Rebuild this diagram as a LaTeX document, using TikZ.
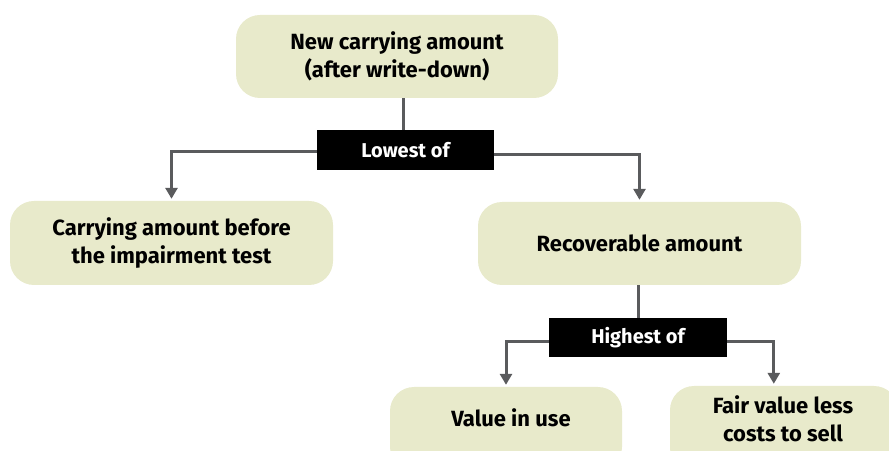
\documentclass[tikz,border=0pt]{standalone}
\usepackage{fontspec}
\setmainfont{Fira Sans}[UprightFont=* Bold]
\usetikzlibrary{arrows.meta,positioning,calc}
\definecolor{boxfill}{HTML}{E8EACB}
\definecolor{linegray}{HTML}{5A5B5D}
\tikzset{
  x=1pt,y=1pt,
  bubble/.style={fill=boxfill, rounded corners=24pt, align=center, inner sep=0pt,
    font=\fontsize{22}{28}\selectfont, text=black},
  btext/.style={align=center, inner sep=0pt, font=\fontsize{22}{28}\selectfont},
  tag/.style={fill=black, text=white, inner sep=0pt, font=\fontsize{20}{24}\selectfont},
  conn/.style={draw=linegray, line width=3pt},
  arr/.style={conn, -{Triangle[width=12pt,length=11pt]}, shorten >=2pt},
}
\begin{document}
\begin{tikzpicture}
\useasboundingbox (0,0) rectangle (889,450);
\clip (0,0) rectangle (889,450);
% boxes (y = 450 - image y)
\node[bubble, minimum width=322pt, minimum height=83pt] (top) at (397,393.5) {New carrying amount\\(after write-down)};
\node[tag, minimum width=177pt, minimum height=40pt] (lowest) at (405.5,300) {Lowest of};
\node[bubble, minimum width=323pt, minimum height=84pt] (before) at (171.5,207) {Carrying amount before\\the impairment test};
\node[bubble, minimum width=323pt, minimum height=83pt] (recov) at (639.5,206.5) {Recoverable amount};
\node[tag, minimum width=178pt, minimum height=39pt] (highest) at (638,112.5) {Highest of};
\node[bubble, minimum width=232pt, minimum height=84pt] (viu) at (506,21) {};
\node[btext] (viut) at (511,32) {Value in use};
\node[bubble, minimum width=228pt, minimum height=86pt] (fv) at (784,21) {};
\node[btext] (fvt) at (783,31) {Fair value less\\costs to sell};
\coordinate (fvin) at ($(fv.north west)+(104,0)$);
% connectors
\draw[conn] (lowest.north) ++(-2,0) coordinate (ln) -- (ln |- top.south);
\draw[arr] ($(lowest.west)+(0,-1.5)$) -| (before.north);
\draw[arr] ($(lowest.east)+(0,-4.5)$) -| (recov.north);
\draw[conn] (highest.north) -- (highest.north |- recov.south);
\draw[arr] ($(highest.west)+(0,-4.5)$) -| (viu.north);
\draw[arr] ($(highest.east)+(0,-4.5)$) -| (fvin);
\end{tikzpicture}
\end{document}
